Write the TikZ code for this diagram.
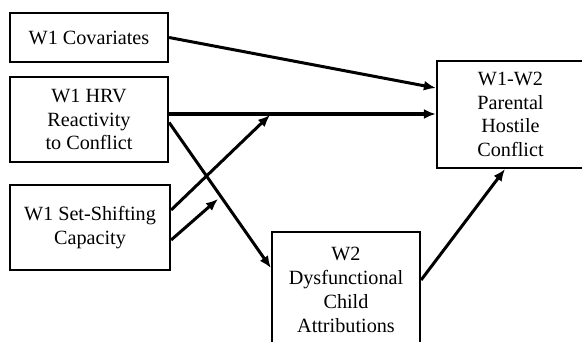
\documentclass[tikz,border=0pt]{standalone}
\usepackage{fontspec}
\setmainfont{Liberation Serif}
\usetikzlibrary{arrows.meta}
\begin{document}
\begin{tikzpicture}[x=1pt,y=-1pt,
  box/.style={draw,line width=2.2pt,rectangle,align=center,inner sep=0pt,
    font=\fontsize{20.2}{23.8}\selectfont},
  arr/.style={line width=3pt,-{Latex[length=12pt,width=10pt]}}]
\useasboundingbox (0,0) rectangle (582,341);
\clip (0,0) rectangle (582,341);
\fill[white] (0,0) rectangle (582,341);
\node[box,minimum width=158pt,minimum height=49pt] (cov) at (89,37.5) {W1 Covariates};
\node[box,minimum width=158pt,minimum height=85pt] (hrv) at (89,119.5) {W1 HRV\\Reactivity\\to Conflict};
\node[box,minimum width=160pt,minimum height=85pt] (ss) at (90,227.5) {W1 Set-Shifting\\Capacity};
\node[box,minimum width=147pt,minimum height=107pt] (par) at (510.5,114.5) {W1-W2\\Parental\\Hostile\\Conflict};
\node[box,minimum width=148pt,minimum height=116pt] (w2) at (346,290) {W2\\Dysfunctional\\Child\\Attributions};
\coordinate (m1) at (270,115);
\coordinate (m2) at (218,199);
\draw[arr] (cov.east) -- ([yshift=26.5pt]par.west);
\draw[arr,line width=3.4pt] ([yshift=5.5pt]hrv.east) -- ([yshift=5.5pt]hrv.east -| par.west);
\draw[arr] ([yshift=-3pt]hrv.east) -- ([yshift=22pt]w2.west);
\draw[arr] ([yshift=17.5pt]ss.east) -- (m1);
\draw[arr] ([yshift=-12.5pt]ss.east) -- (m2);
\draw[arr] ([yshift=10pt]w2.east) -- ([xshift=-5.5pt]par.south);
\end{tikzpicture}
\end{document}
